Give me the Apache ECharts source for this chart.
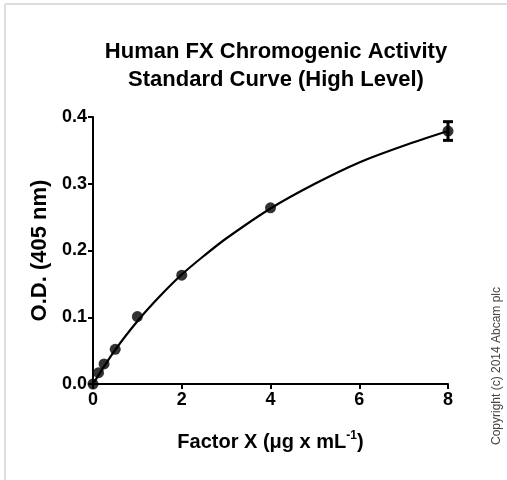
<!DOCTYPE html>
<html>
<head>
<meta charset="utf-8">
<script src="https://cdn.jsdelivr.net/npm/echarts@6/dist/echarts.min.js"></script>
<style>
  html, body { margin: 0; padding: 0; background: #fff; }
  #chart { width: 507px; height: 480px; }
</style>
</head>
<body>
<div id="chart"></div>
<script>
// 数据: Factor X 浓度 (μg/mL) 与 O.D. (405 nm)
var xValues = [0, 0.125, 0.25, 0.5, 1, 2, 4, 8];
var odValues = [0, 0.017, 0.030, 0.052, 0.101, 0.163, 0.264, 0.379];
var odErrors = [0, 0, 0, 0, 0, 0, 0, 0.014];

// 拟合曲线
var curveX = [0, 0.5, 1, 1.5, 2, 2.5, 3, 4, 5, 6, 7, 8];
var curveY = [0, 0.051, 0.094, 0.131, 0.164, 0.192, 0.218, 0.263, 0.300, 0.332, 0.357, 0.379];

var xTicks = [0, 2, 4, 6, 8];
var yTicks = [0.0, 0.1, 0.2, 0.3, 0.4];

var chart = echarts.init(document.getElementById('chart'));

var font = 'Liberation Sans, Arial, sans-serif';

var option = {
    backgroundColor: '#fff',
    animation: false,
    title: {
        text: 'Human FX Chromogenic Activity\nStandard Curve (High Level)',
        left: 271,
        top: 33,
        textAlign: 'center',
        textStyle: {
            fontFamily: font,
            fontSize: 22,
            fontWeight: 'bold',
            color: '#000',
            lineHeight: 28
        }
    },
    grid: {
        left: 93,
        right: 59,
        top: 117,
        bottom: 96
    },
    xAxis: {
        type: 'value',
        min: xTicks[0],
        max: xTicks[xTicks.length - 1],
        interval: 2,
        name: '{n|Factor X (μg x mL}{s|-1}{n|)}',
        nameLocation: 'middle',
        nameGap: 46,
        nameTextStyle: {
            rich: {
                n: { fontFamily: font, fontSize: 20, fontWeight: 'bold', color: '#000' },
                s: { fontFamily: font, fontSize: 12, fontWeight: 'bold', color: '#000', verticalAlign: 'top', padding: [0, 0, 12, 0] }
            }
        },
        axisLine: { lineStyle: { color: '#000', width: 2 } },
        axisTick: { length: 5, lineStyle: { color: '#000', width: 2 } },
        axisLabel: {
            fontFamily: font, fontSize: 18, fontWeight: 'bold', color: '#000', margin: 7
        },
        splitLine: { show: false }
    },
    yAxis: {
        type: 'value',
        min: yTicks[0],
        max: yTicks[yTicks.length - 1],
        interval: 0.1,
        name: 'O.D. (405 nm)',
        nameLocation: 'middle',
        nameGap: 41,
        nameTextStyle: {
            fontFamily: font, fontSize: 22, fontWeight: 'bold', color: '#000'
        },
        axisLine: { show: true, lineStyle: { color: '#000', width: 2 } },
        axisTick: { show: true, length: 5, lineStyle: { color: '#000', width: 2 } },
        axisLabel: {
            fontFamily: font, fontSize: 18, fontWeight: 'bold', color: '#000', margin: 6,
            formatter: function (v) { return v.toFixed(1); }
        },
        splitLine: { show: false }
    },
    series: [
        {
            name: 'fit',
            type: 'line',
            smooth: 0.3,
            symbol: 'none',
            lineStyle: { color: '#000', width: 2.2 },
            data: curveX.map(function (x, i) { return [x, curveY[i]]; }),
            z: 2
        },
        {
            name: 'error',
            type: 'custom',
            renderItem: function (params, api) {
                var x = api.value(0), y = api.value(1), e = api.value(2);
                if (!e) return null;
                var top = api.coord([x, y + e]);
                var bot = api.coord([x, y - e]);
                var w = 5;
                var st = { stroke: '#000', lineWidth: 3 };
                return {
                    type: 'group',
                    children: [
                        { type: 'line', shape: { x1: top[0], y1: top[1], x2: bot[0], y2: bot[1] }, style: st },
                        { type: 'line', shape: { x1: top[0] - w, y1: top[1], x2: top[0] + w, y2: top[1] }, style: st },
                        { type: 'line', shape: { x1: bot[0] - w, y1: bot[1], x2: bot[0] + w, y2: bot[1] }, style: st }
                    ]
                };
            },
            data: xValues.map(function (x, i) { return [x, odValues[i], odErrors[i]]; }),
            z: 3
        },
        {
            name: 'data',
            type: 'scatter',
            symbol: 'circle',
            symbolSize: 11,
            itemStyle: { color: '#000' },
            data: xValues.map(function (x, i) { return [x, odValues[i]]; }),
            z: 4
        }
    ],
    graphic: [
        // 外框 (浅灰)
        { type: 'line', shape: { x1: 5, y1: 4, x2: 507, y2: 4 }, style: { stroke: '#dddddd', lineWidth: 2 } },
        { type: 'line', shape: { x1: 5, y1: 4, x2: 5, y2: 480 }, style: { stroke: '#dddddd', lineWidth: 2 } },
        // 版权
        {
            type: 'text',
            x: 497,
            y: 366,
            rotation: Math.PI / 2,
            style: {
                text: 'Copyright (c) 2014 Abcam plc',
                fontFamily: font,
                fontSize: 12,
                fill: '#444',
                align: 'center',
                verticalAlign: 'middle'
            }
        }
    ]
};

chart.setOption(option);
</script>
</body>
</html>
